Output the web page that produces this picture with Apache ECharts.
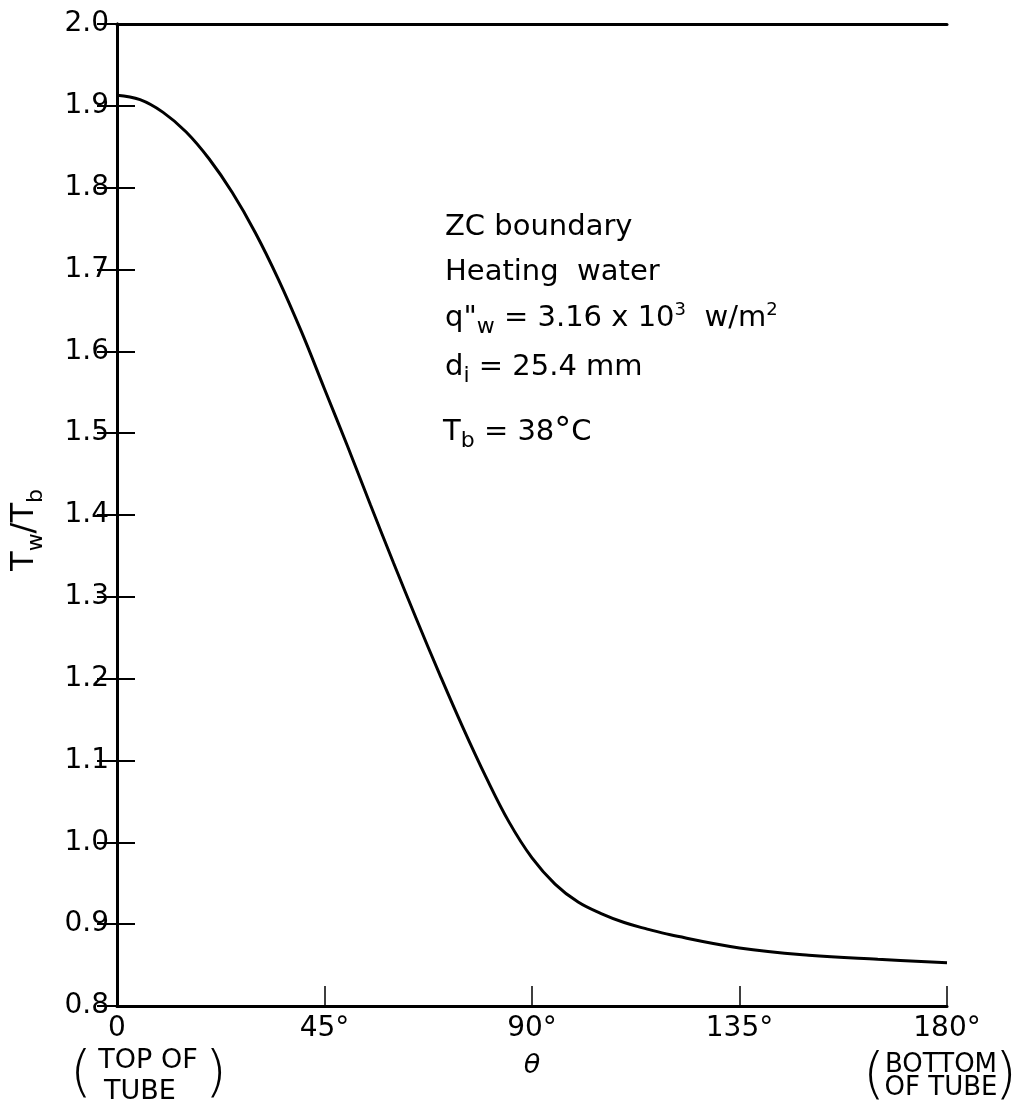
<!DOCTYPE html>
<html>
<head>
<meta charset="utf-8">
<script src="https://cdn.jsdelivr.net/npm/echarts@6/dist/echarts.min.js"></script>
<style>
html,body{margin:0;padding:0;background:#fff;}
#chart{width:1021px;height:1111px;}
</style>
</head>
<body>
<div id="chart"></div>
<script>
// ---- data ----
const thetaDeg = [0, 5, 10, 15, 20, 25, 30, 35, 40, 45, 50, 55, 60, 65, 70, 75, 80, 85, 90, 95, 100, 105, 110, 115, 120, 135, 150, 165, 180];
const wallToBulkRatio = [1.913, 1.9075, 1.892, 1.868, 1.835, 1.794, 1.745, 1.688, 1.624, 1.554, 1.484, 1.412, 1.341, 1.272, 1.205, 1.1405, 1.080, 1.025, 0.981, 0.949, 0.927, 0.913, 0.902, 0.894, 0.887, 0.871, 0.862, 0.857, 0.853];
const xTickLabels = ['0', '45°', '90°', '135°', '180°'];
const yTickLabels = ['0.8', '0.9', '1.0', '1.1', '1.2', '1.3', '1.4', '1.5', '1.6', '1.7', '1.8', '1.9', '2.0'];

const FONT = 'DejaVu Sans';
const chart = echarts.init(document.getElementById('chart'), null, {renderer: 'canvas'});

const seriesData = thetaDeg.map((t, i) => [t, wallToBulkRatio[i]]);

const mainRich = {
  n:   {fontFamily: FONT, fontSize: 29, lineHeight: 40, fill: '#000'},
  sub: {fontFamily: FONT, fontSize: 22, lineHeight: 26, padding: [18, 0, 0, 0], fill: '#000'},
  sup: {fontFamily: FONT, fontSize: 18, lineHeight: 24, padding: [0, 0, 16, 0], fill: '#000'},
  deg: {fontFamily: FONT, fontSize: 34, lineHeight: 40, fill: '#000'}
};
function noteText(x, y, text) {
  return {type: 'text', x: x, y: y, silent: true,
    style: {text: text, rich: mainRich, verticalAlign: 'top', align: 'left', fill: '#000', fontFamily: FONT, fontSize: 29}};
}
function plainText(x, y, text, size, extraStyle) {
  return {type: 'text', x: x, y: y, silent: true,
    style: Object.assign({text: text, fontFamily: FONT, fontSize: size, fill: '#000', align: 'center', verticalAlign: 'middle'}, extraStyle || {})};
}

const option = {
  backgroundColor: '#fff',
  animation: false,
  grid: {left: 117, right: 74, top: 24, bottom: 105, containLabel: false, outerBoundsMode: 'none'},
  xAxis: [{
    type: 'value', min: 0, max: 180, interval: 45,
    axisLine: {show: true, lineStyle: {color: '#000', width: 3}},
    axisTick: {show: true, inside: true, length: 20, lineStyle: {color: '#000', width: 1.5}},
    splitLine: {show: false},
    axisLabel: {color: '#000', fontFamily: FONT, fontSize: 28, margin: 9,
      formatter: v => xTickLabels[Math.round(v / 45)]},
    name: 'θ', nameLocation: 'middle', nameGap: 46,
    nameTextStyle: {color: '#000', fontFamily: FONT, fontSize: 27, fontStyle: 'italic'}
  }, {
    type: 'value', min: 0, max: 180, position: 'top',
    axisLine: {show: true, lineStyle: {color: '#000', width: 3}},
    axisTick: {show: false}, axisLabel: {show: false}, splitLine: {show: false}
  }],
  yAxis: [{
    type: 'value', min: 0.8, max: 2.0, interval: 0.1,
    axisLine: {show: true, lineStyle: {color: '#000', width: 3}},
    axisTick: {show: true, inside: true, length: 18, lineStyle: {color: '#000', width: 2}},
    splitLine: {show: false},
    axisLabel: {color: '#000', fontFamily: FONT, fontSize: 28, margin: 8,
      formatter: v => yTickLabels[Math.round((v - 0.8) / 0.1)]},
    name: '{m|T}{s|w}{m|/T}{s|b}', nameLocation: 'middle', nameGap: 70,
    nameTextStyle: {color: '#000', fontFamily: FONT, fontSize: 32, padding: [0, 30, 0, 0],
      rich: {
        m: {color: '#000', fontFamily: FONT, fontSize: 32, lineHeight: 44},
        s: {color: '#000', fontFamily: FONT, fontSize: 22, lineHeight: 26, padding: [22, 0, 0, 0]}
      }}
  }, {
    type: 'value', min: 0.8, max: 2.0, interval: 0.1, position: 'right',
    axisLine: {show: true, lineStyle: {color: '#000', width: 3}},
    axisTick: {show: true, inside: true, length: 20, lineStyle: {color: '#000', width: 2}},
    axisLabel: {show: false}, splitLine: {show: false}
  }],
  series: [{
    type: 'line', xAxisIndex: 0, yAxisIndex: 0,
    data: seriesData, smooth: 0.4, symbol: 'none',
    lineStyle: {color: '#000', width: 3}
  }],
  graphic: [
    noteText(445, 207, '{n|ZC boundary}'),
    noteText(445, 252, '{n|Heating  water}'),
    noteText(445, 298, '{n|q"}{sub|w}{n| = 3.16 x 10}{sup|3}{n|  w/m}{sup|2}'),
    noteText(445, 347, '{n|d}{sub|i}{n| = 25.4 mm}'),
    noteText(443, 412, '{n|T}{sub|b}{n| = 38}{deg|°}{n|C}'),
    plainText(81, 1075, '(', 56, {fontWeight: 'lighter'}),
    plainText(148, 1061, 'TOP OF', 27),
    plainText(140, 1092, 'TUBE', 27),
    plainText(216, 1075, ')', 56, {fontWeight: 'lighter'}),
    plainText(874, 1077, '(', 56, {fontWeight: 'lighter'}),
    plainText(941, 1065, 'BOTTOM', 26),
    plainText(941, 1088, 'OF TUBE', 26),
    plainText(1006, 1077, ')', 56, {fontWeight: 'lighter'})
  ]
};
chart.setOption(option);
</script>
</body>
</html>
